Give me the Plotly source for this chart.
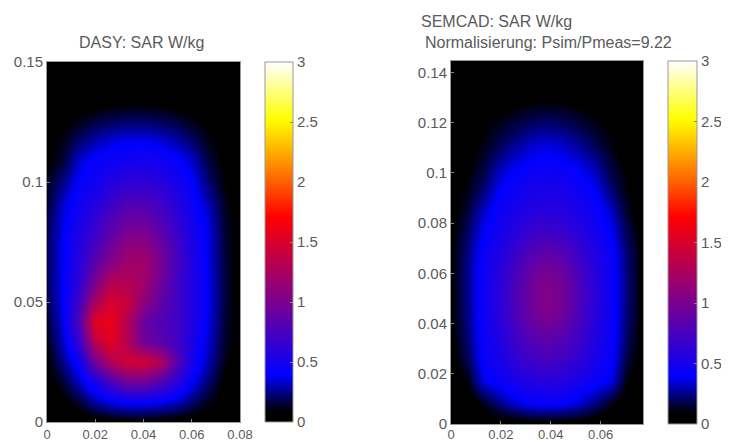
import plotly.graph_objects as go

W, H = 721, 433   # the page adds an 8 px body margin; figure fills the rest of the 729x441 window
PAGE_MARGIN = 8

left_x = [0, .0067, .0133, .02, .0267, .0333, .04, .0467, .0533, .06, .0667, .0733, .08]
left_y = [0, .0083, .0167, .025, .0333, .0417, .05, .0583, .0667, .075, .0833, .0917, .1, .1083, .1167, .125, .1333, .1417, .15]
left_z = [
    [0, .01, .02, .03, .05, .06, .06, .05, .04, .03, .01, 0, 0],
    [.02, .06, .15, .28, .36, .4, .4, .38, .32, .22, .12, .05, .02],
    [.05, .15, .32, .5, .75, .95, .95, .8, .6, .38, .22, .08, .03],
    [.08, .25, .45, .95, 1.3, 1.45, 1.45, 1.3, .85, .5, .3, .12, .04],
    [.12, .32, .65, 1.35, 1.55, 1.3, .95, .85, .72, .52, .33, .15, .05],
    [.15, .36, .8, 1.55, 1.6, 1.3, .9, .8, .72, .55, .36, .16, .05],
    [.18, .38, .72, 1.25, 1.5, 1.4, 1.1, .88, .72, .55, .37, .17, .05],
    [.2, .38, .62, 1.0, 1.3, 1.3, 1.2, .95, .72, .55, .37, .17, .05],
    [.2, .38, .58, .85, 1.05, 1.2, 1.2, 1.0, .75, .55, .36, .17, .05],
    [.2, .38, .55, .72, .92, 1.08, 1.08, .92, .72, .52, .36, .16, .05],
    [.18, .36, .5, .65, .8, .92, .92, .8, .65, .48, .35, .15, .05],
    [.15, .33, .46, .55, .68, .78, .78, .7, .58, .44, .3, .13, .04],
    [.12, .25, .4, .47, .55, .62, .62, .58, .5, .4, .22, .1, .03],
    [.08, .16, .34, .43, .46, .48, .49, .47, .43, .33, .17, .08, .03],
    [.06, .12, .22, .3, .35, .38, .38, .35, .3, .22, .12, .06, .02],
    [.04, .07, .12, .17, .2, .22, .22, .2, .17, .12, .08, .04, .02],
    [.01, .02, .03, .05, .07, .08, .08, .07, .05, .03, .02, .01, 0],
    [0, 0, 0, 0, 0, 0, 0, 0, 0, 0, 0, 0, 0],
    [0, 0, 0, 0, 0, 0, 0, 0, 0, 0, 0, 0, 0],
]

right_x = [0, .0064, .0128, .0193, .0257, .0321, .0385, .0449, .0513, .0578, .0642, .0706, .077]
right_y = [0, .0085, .017, .0255, .034, .0425, .051, .0595, .068, .0765, .085, .0935, .102, .1105, .119, .1275, .136, .1445]
right_z = [
    [0, 0, .01, .02, .03, .04, .04, .04, .03, .02, .01, 0, 0],
    [.01, .03, .12, .24, .34, .4, .42, .4, .34, .24, .12, .03, .01],
    [.03, .1, .36, .44, .5, .56, .58, .56, .5, .44, .36, .1, .03],
    [.05, .18, .42, .5, .62, .7, .74, .7, .62, .5, .42, .16, .05],
    [.07, .22, .44, .54, .7, .8, .86, .8, .7, .54, .44, .2, .06],
    [.08, .24, .45, .58, .75, .92, 1.0, .93, .75, .58, .45, .22, .07],
    [.08, .25, .45, .6, .78, .95, 1.05, .96, .78, .6, .45, .23, .07],
    [.08, .25, .45, .58, .75, .92, 1.0, .93, .75, .58, .45, .23, .07],
    [.08, .24, .43, .54, .68, .8, .87, .8, .68, .54, .43, .22, .07],
    [.07, .2, .38, .48, .58, .67, .7, .67, .58, .48, .38, .18, .06],
    [.06, .15, .32, .44, .5, .56, .58, .56, .5, .44, .32, .13, .05],
    [.05, .11, .22, .38, .45, .5, .52, .5, .45, .38, .22, .1, .04],
    [.04, .08, .16, .3, .38, .42, .44, .42, .38, .3, .16, .08, .03],
    [.03, .06, .11, .19, .27, .33, .36, .33, .27, .19, .11, .06, .03],
    [.02, .04, .08, .12, .17, .21, .23, .21, .17, .12, .08, .04, .02],
    [.01, .02, .04, .06, .08, .1, .11, .1, .08, .06, .04, .02, .01],
    [0, 0, .01, .02, .02, .03, .03, .03, .02, .02, .01, 0, 0],
    [0, 0, 0, 0, 0, 0, 0, 0, 0, 0, 0, 0, 0],
]

left_xticks = [0, .02, .04, .06, .08]
left_xlabels = ["0", "0.02", "0.04", "0.06", "0.08"]
left_yticks = [0, .05, .1, .15]
left_ylabels = ["0", "0.05", "0.1", "0.15"]
right_xticks = [0, .02, .04, .06]
right_xlabels = ["0", "0.02", "0.04", "0.06"]
right_yticks = [0, .02, .04, .06, .08, .1, .12, .14]
right_ylabels = ["0", "0.02", "0.04", "0.06", "0.08", "0.1", "0.12", "0.14"]
cbar_ticks = [0, .5, 1, 1.5, 2, 2.5, 3]
cbar_labels = ["0", "0.5", "1", "1.5", "2", "2.5", "3"]

scale = [
    [0, "#000000"], [.03, "#000000"], [.13, "#0000ff"], [.36, "#8a0080"],
    [.57, "#ff0000"], [.70, "#ff8000"], [.84, "#ffff00"], [1, "#ffffff"],
]

GRAY = "#5a5a5a"
TICK = dict(family="Liberation Sans", size=15, color=GRAY)
XTICK = dict(family="Liberation Sans", size=13, color=GRAY)
TITLE = dict(family="Liberation Sans", size=16, color=GRAY)


def fx(p):
    return (p - PAGE_MARGIN) / W


def fy(p):
    return 1 - (p - PAGE_MARGIN) / H


def cbar(x0, x1, y0, y1):
    return dict(
        x=fx(x0), xanchor="left", xref="paper", y=fy(y1), yanchor="bottom", yref="paper",
        len=(y1 - y0) / H, lenmode="fraction", thickness=x1 - x0, thicknessmode="pixels",
        outlinecolor="#999999", outlinewidth=1, tickvals=cbar_ticks, ticktext=cbar_labels,
        ticks="inside", ticklen=3, tickcolor="#888888", tickfont=TICK, xpad=0, ypad=0,
    )


fig = go.Figure()
fig.add_trace(go.Heatmap(x=left_x, y=left_y, z=left_z, zmin=0, zmax=3, colorscale=scale,
                         zsmooth="best", xaxis="x", yaxis="y", colorbar=cbar(265, 293, 62, 422)))
fig.add_trace(go.Heatmap(x=right_x, y=right_y, z=right_z, zmin=0, zmax=3, colorscale=scale,
                         zsmooth="best", xaxis="x2", yaxis="y2", colorbar=cbar(668, 697, 61, 424)))

ax = dict(showgrid=False, zeroline=False, showline=True, linecolor="#999999", mirror=True,
          ticks="inside", ticklen=3, tickcolor="#888888", tickfont=TICK, automargin=False)
xax = dict(ax, tickfont=XTICK)

fig.update_layout(
    width=W, height=H, margin=dict(l=0, r=0, t=0, b=0, autoexpand=False),
    paper_bgcolor="white", plot_bgcolor="black", showlegend=False,
    xaxis=dict(xax, ticklabelstandoff=0, domain=[fx(47), fx(240)], range=[0, .08], tickvals=left_xticks, ticktext=left_xlabels, anchor="y"),
    yaxis=dict(ax, domain=[fy(422), fy(62)], range=[0, .15], tickvals=left_yticks, ticktext=left_ylabels, anchor="x"),
    xaxis2=dict(xax, ticklabelstandoff=-2, domain=[fx(451), fx(643)], range=[0, .077], tickvals=right_xticks, ticktext=right_xlabels, anchor="y2"),
    yaxis2=dict(ax, domain=[fy(424), fy(61)], range=[0, .1445], tickvals=right_yticks, ticktext=right_ylabels, anchor="x2"),
    annotations=[
        dict(text="DASY: SAR W/kg", x=fx(141), y=fy(43), xref="paper", yref="paper", showarrow=False, font=TITLE, xanchor="center", yanchor="middle"),
        dict(text="SEMCAD: SAR W/kg", x=fx(419), y=fy(21), xref="paper", yref="paper", showarrow=False, font=TITLE, xanchor="left", yanchor="middle"),
        dict(text="Normalisierung: Psim/Pmeas=9.22", x=fx(423), y=fy(43), xref="paper", yref="paper", showarrow=False, font=TITLE, xanchor="left", yanchor="middle"),
    ],
)

fig.write_html("out.html")
